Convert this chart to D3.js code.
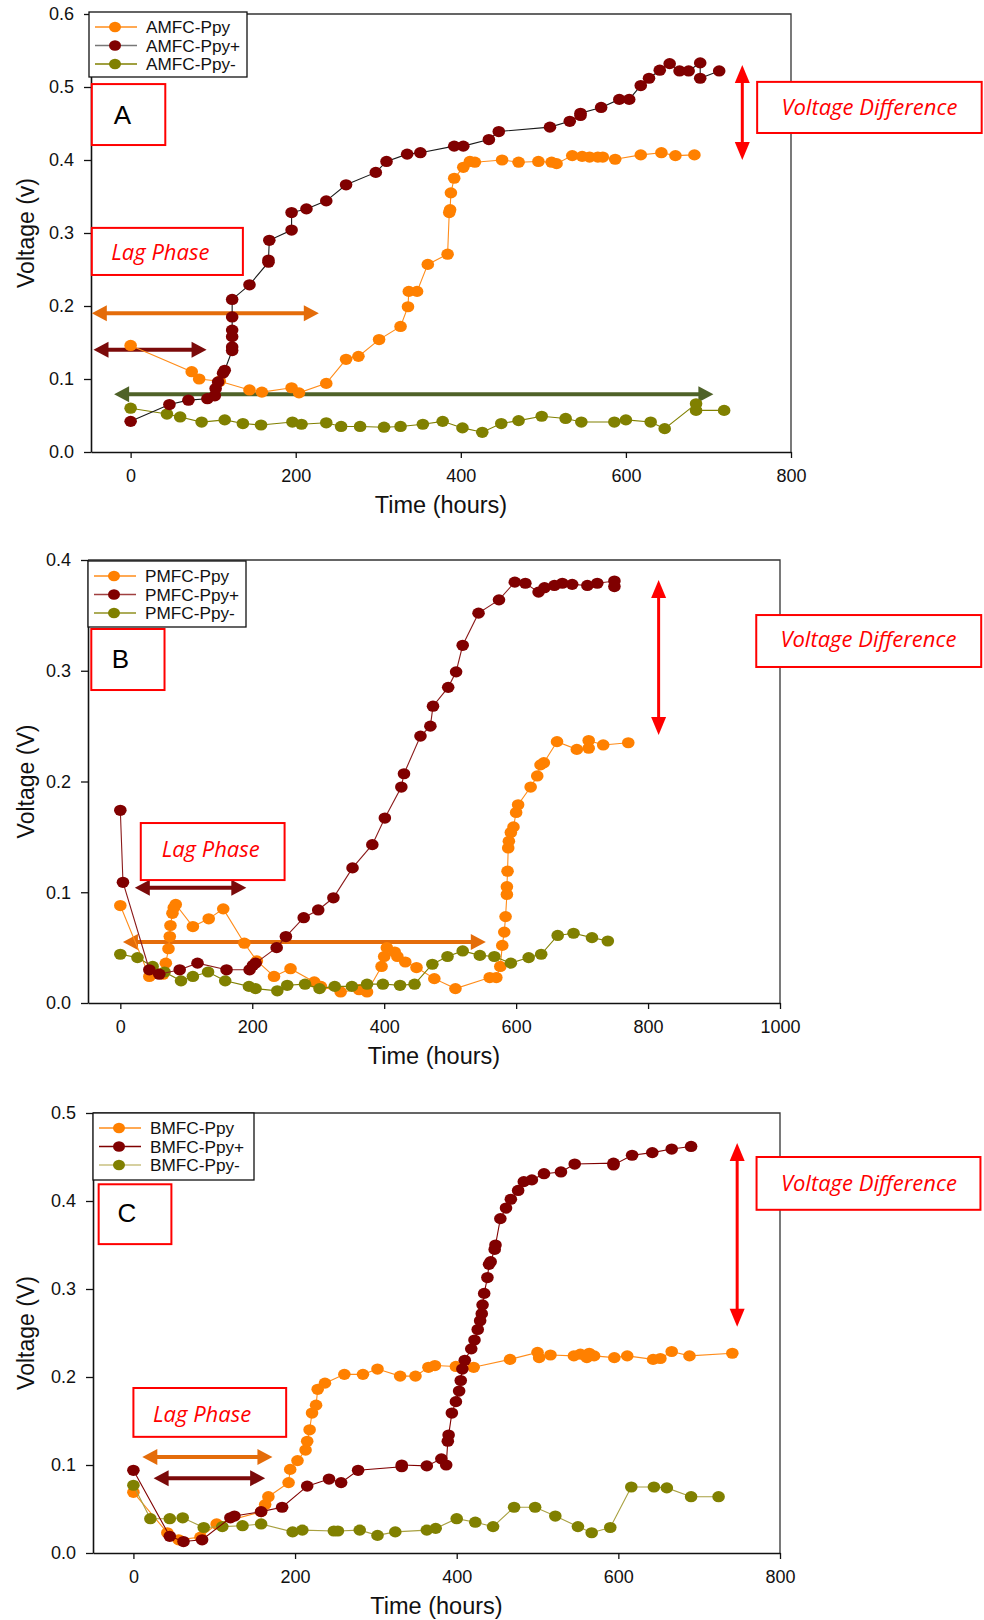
<!DOCTYPE html>
<html>
<head>
<meta charset="utf-8">
<script src="https://cdnjs.cloudflare.com/ajax/libs/d3/7.8.5/d3.min.js"></script>
<style>
body { margin: 0; background: #fff; }
svg text { font-family: "Liberation Sans", Arial, sans-serif; }
.note { font-family: "Open Sans", sans-serif; font-style: italic; fill: #ff0000; }
</style>
</head>
<body>
<div id="chart-area"></div>
<script>
/*
*   three voltage vs time panels (A, B, C)
*/

// panel A  [time (h), voltage (V)]
let amfcPpy = [[0,0.146],[74,0.110],[83,0.100],[108,0.097],[144,0.085],[159,0.082],[195,0.088],[204,0.081],[237,0.094],[261,0.127],[276,0.131],[301,0.154],[327,0.172],[336,0.199],[337,0.220],[347,0.220],[360,0.257],[384,0.271],[386,0.328],[387,0.332],[388,0.355],[392,0.375],[403,0.390],[411,0.398],[417,0.397],[450,0.400],[470,0.397],[494,0.398],[510,0.397],[516,0.395],[535,0.406],[547,0.405],[556,0.404],[566,0.404],[572,0.404],[587,0.401],[618,0.407],[643,0.410],[660,0.406],[683,0.407]];
let amfcPpyPlus = [[0,0.042],[47,0.065],[70,0.071],[93,0.073],[102,0.077],[103,0.087],[106,0.096],[112,0.108],[114,0.112],[123,0.139],[123,0.144],[123,0.158],[123,0.167],[123,0.185],[123,0.209],[144,0.229],[167,0.260],[167,0.263],[168,0.290],[195,0.304],[195,0.328],[213,0.333],[237,0.344],[261,0.366],[297,0.383],[310,0.398],[335,0.408],[351,0.410],[392,0.419],[403,0.419],[434,0.428],[446,0.439],[508,0.445],[532,0.453],[545,0.461],[545,0.464],[570,0.472],[592,0.483],[604,0.483],[618,0.502],[628,0.512],[641,0.523],[653,0.532],[665,0.522],[676,0.522],[690,0.533],[690,0.512],[713,0.522]];
let amfcPpyMinus = [[0,0.060],[44,0.052],[60,0.048],[86,0.041],[114,0.044],[136,0.039],[158,0.037],[196,0.041],[207,0.038],[237,0.040],[255,0.035],[278,0.035],[307,0.034],[327,0.035],[354,0.038],[378,0.042],[402,0.033],[426,0.027],[449,0.039],[470,0.043],[498,0.049],[527,0.046],[546,0.041],[586,0.041],[600,0.044],[630,0.041],[647,0.032],[685,0.066],[685,0.057],[719,0.057]];

// panel B
let pmfcPpy = [[0,0.088],[44,0.024],[65,0.026],[69,0.036],[73,0.049],[75,0.060],[76,0.070],[79,0.081],[81,0.086],[84,0.089],[110,0.069],[134,0.076],[156,0.085],[188,0.054],[207,0.038],[233,0.024],[258,0.031],[294,0.019],[304,0.015],[334,0.010],[362,0.012],[374,0.010],[396,0.033],[400,0.042],[404,0.050],[416,0.046],[420,0.042],[432,0.037],[449,0.032],[476,0.022],[508,0.013],[560,0.023],[570,0.023],[576,0.033],[579,0.052],[582,0.064],[584,0.078],[586,0.098],[586,0.105],[587,0.119],[588,0.140],[589,0.146],[592,0.154],[596,0.159],[600,0.172],[603,0.179],[622,0.195],[632,0.205],[637,0.215],[642,0.217],[662,0.236],[692,0.229],[710,0.230],[710,0.237],[732,0.233],[770,0.235]];
let pmfcPpyPlus = [[0,0.174],[4,0.109],[44,0.030],[59,0.026],[90,0.030],[117,0.036],[161,0.030],[196,0.030],[201,0.034],[205,0.036],[237,0.050],[251,0.060],[278,0.077],[300,0.084],[323,0.095],[352,0.122],[382,0.143],[401,0.167],[426,0.195],[430,0.207],[455,0.241],[470,0.250],[474,0.268],[497,0.285],[509,0.299],[519,0.323],[543,0.352],[574,0.364],[598,0.380],[614,0.379],[634,0.371],[643,0.375],[658,0.377],[670,0.379],[685,0.378],[708,0.377],[723,0.379],[749,0.381],[749,0.376]];
let pmfcPpyMinus = [[0,0.044],[26,0.041],[49,0.033],[67,0.028],[92,0.020],[110,0.024],[133,0.028],[159,0.020],[195,0.015],[205,0.013],[238,0.011],[253,0.016],[280,0.017],[302,0.013],[325,0.015],[351,0.015],[374,0.017],[398,0.017],[424,0.016],[446,0.017],[473,0.035],[496,0.042],[519,0.047],[545,0.043],[567,0.042],[592,0.036],[619,0.041],[638,0.044],[663,0.061],[687,0.063],[715,0.059],[739,0.056]];

// panel C
let bmfcPpy = [[0,0.069],[42,0.023],[56,0.015],[83,0.018],[103,0.033],[158,0.047],[163,0.055],[167,0.064],[192,0.080],[194,0.095],[203,0.105],[213,0.117],[215,0.127],[218,0.140],[221,0.159],[226,0.168],[228,0.186],[237,0.193],[261,0.203],[284,0.203],[302,0.209],[330,0.201],[349,0.201],[365,0.211],[373,0.213],[399,0.212],[421,0.211],[466,0.220],[500,0.228],[502,0.222],[516,0.225],[545,0.224],[553,0.226],[561,0.222],[564,0.227],[570,0.224],[595,0.222],[611,0.224],[643,0.220],[652,0.221],[666,0.229],[688,0.224],[741,0.227]];
let bmfcPpyPlus = [[0,0.094],[45,0.019],[62,0.013],[85,0.015],[120,0.040],[125,0.042],[158,0.047],[184,0.052],[215,0.076],[242,0.084],[257,0.080],[278,0.094],[332,0.098],[332,0.100],[363,0.099],[381,0.107],[387,0.100],[389,0.127],[390,0.134],[394,0.159],[399,0.172],[403,0.184],[405,0.196],[407,0.209],[410,0.219],[418,0.232],[422,0.242],[426,0.254],[429,0.264],[431,0.272],[432,0.282],[434,0.295],[438,0.313],[440,0.328],[442,0.331],[447,0.345],[448,0.350],[454,0.380],[461,0.392],[467,0.402],[476,0.412],[483,0.422],[493,0.424],[508,0.431],[529,0.433],[546,0.442],[594,0.443],[594,0.441],[617,0.452],[642,0.455],[666,0.459],[690,0.462]];
let bmfcPpyMinus = [[0,0.077],[21,0.039],[45,0.039],[61,0.040],[87,0.029],[110,0.030],[135,0.031],[158,0.033],[197,0.024],[209,0.026],[248,0.025],[253,0.025],[280,0.026],[302,0.020],[324,0.024],[363,0.026],[374,0.028],[400,0.039],[423,0.035],[445,0.030],[471,0.052],[497,0.052],[522,0.042],[550,0.030],[567,0.023],[590,0.029],[616,0.075],[644,0.075],[660,0.074],[690,0.064],[724,0.064]];

let xTicksA = [0, 200, 400, 600, 800];
let xTicksB = [0, 200, 400, 600, 800, 1000];
let yTicksA = [0, 0.1, 0.2, 0.3, 0.4, 0.5, 0.6];
let yTicksB = [0, 0.1, 0.2, 0.3, 0.4];
let yTicksC = [0, 0.1, 0.2, 0.3, 0.4, 0.5];

let namesA = ["AMFC-Ppy", "AMFC-Ppy+", "AMFC-Ppy-"];
let namesB = ["PMFC-Ppy", "PMFC-Ppy+", "PMFC-Ppy-"];
let namesC = ["BMFC-Ppy", "BMFC-Ppy+", "BMFC-Ppy-"];

let markerColors = ["#ff8000", "#800000", "#808000"];

let svg = d3.select("#chart-area")
    .append("svg")
    .attr("width", 984)
    .attr("height", 1620);

let panels = [
    {
        left: 91, right: 791, top: 14, bottom: 452, xMin: -48, xMax: 800,
        xTicks: xTicksA, yTicks: yTicksA, yLabel: "Voltage (v)",
        names: namesA, series: [amfcPpy, amfcPpyPlus, amfcPpyMinus],
        lineColors: ["#ff8c1a", "#1a1a1a", "#808000"],
        legendLine: ["#ff8c1a", "#777777", "#808000"],
        legend: {x: 89, y: 12, w: 158, h: 65},
        letter: {text: "A", t0: -47, t1: 42, v0: 0.4205, v1: 0.504, tx: -10, ty: 0.462},
        lag: {t0: -47, t1: 136, v0: 0.2425, v1: 0.307, tx: 36, ty: 0.274},
        diff: {t0: 759, t1: 1031, v0: 0.437, v1: 0.507, tx: 895, ty: 0.472},
        vArrow: {t: 741, v0: 0.400, v1: 0.530},
        hArrows: [
            {color: "#e46c0a", v: 0.190, t0: -47, t1: 228},
            {color: "#7b0a0a", v: 0.140, t0: -45, t1: 92},
            {color: "#4f6228", v: 0.079, t0: -20, t1: 706}
        ]
    },
    {
        left: 88, right: 780, top: 560, bottom: 1003, xMin: -49, xMax: 1000,
        xTicks: xTicksB, yTicks: yTicksB, yLabel: "Voltage (V)",
        names: namesB, series: [pmfcPpy, pmfcPpyPlus, pmfcPpyMinus],
        lineColors: ["#ff8c1a", "#8b1a1a", "#808000"],
        legendLine: ["#ff8c1a", "#a04040", "#909020"],
        legend: {x: 88, y: 561, w: 158, h: 66},
        letter: {text: "B", t0: -44, t1: 67, v0: 0.2826, v1: 0.3377, tx: 0, ty: 0.311},
        lag: {t0: 31, t1: 249, v0: 0.111, v1: 0.1625, tx: 137, ty: 0.139},
        diff: {t0: 964, t1: 1305, v0: 0.3034, v1: 0.3503, tx: 1134, ty: 0.328},
        vArrow: {t: 816, v0: 0.242, v1: 0.382},
        hArrows: [
            {color: "#7b0a0a", v: 0.104, t0: 22, t1: 191},
            {color: "#e46c0a", v: 0.055, t0: 4, t1: 554}
        ]
    },
    {
        left: 93, right: 780, top: 1113, bottom: 1553, xMin: -50, xMax: 800,
        xTicks: xTicksA, yTicks: yTicksC, yLabel: "Voltage (V)",
        names: namesC, series: [bmfcPpy, bmfcPpyPlus, bmfcPpyMinus],
        lineColors: ["#ff8c1a", "#800000", "#a8a040"],
        legendLine: ["#ff8c1a", "#800000", "#c8c080"],
        legend: {x: 93, y: 1113, w: 161, h: 67},
        letter: {text: "C", t0: -43, t1: 47, v0: 0.351, v1: 0.419, tx: -8, ty: 0.387},
        lag: {t0: 0, t1: 189, v0: 0.132, v1: 0.1875, tx: 85, ty: 0.158},
        diff: {t0: 771, t1: 1048, v0: 0.39, v1: 0.45, tx: 910, ty: 0.420},
        vArrow: {t: 747, v0: 0.257, v1: 0.466},
        hArrows: [
            {color: "#e46c0a", v: 0.109, t0: 11, t1: 172},
            {color: "#7b0a0a", v: 0.085, t0: 25, t1: 163}
        ]
    }
];

panels.forEach(drawPanel);

function arrowPath(x1, y1, x2, y2, len, half){
    // triangle head pointing at (x2, y2)
    let a = Math.atan2(y2 - y1, x2 - x1);
    let bx = x2 - len * Math.cos(a), by = y2 - len * Math.sin(a);
    let px = -Math.sin(a) * half, py = Math.cos(a) * half;
    return "M" + x2 + "," + y2 + "L" + (bx + px) + "," + (by + py) + "L" + (bx - px) + "," + (by - py) + "Z";
}

function doubleArrow(g, x1, y1, x2, y2, color, width, len, half){
    let a = Math.atan2(y2 - y1, x2 - x1);
    g.append("line")
        .attr("x1", x1 + (len - 1) * Math.cos(a))
        .attr("y1", y1 + (len - 1) * Math.sin(a))
        .attr("x2", x2 - (len - 1) * Math.cos(a))
        .attr("y2", y2 - (len - 1) * Math.sin(a))
        .attr("stroke", color)
        .attr("stroke-width", width);
    g.append("path").attr("d", arrowPath(x1, y1, x2, y2, len, half)).attr("fill", color);
    g.append("path").attr("d", arrowPath(x2, y2, x1, y1, len, half)).attr("fill", color);
}

function noteBox(g, x, y, b, label, cls, size){
    g.append("rect")
        .attr("x", x(b.t0))
        .attr("y", y(b.v1))
        .attr("width", x(b.t1) - x(b.t0))
        .attr("height", y(b.v0) - y(b.v1))
        .attr("fill", "#fff")
        .attr("stroke", "#ff0000")
        .attr("stroke-width", 2);
    g.append("text")
        .attr("class", cls)
        .attr("x", x(b.tx))
        .attr("y", y(b.ty))
        .attr("dy", "0.35em")
        .attr("text-anchor", "middle")
        .attr("font-size", size)
        .text(label);
}

function drawPanel(p){
    let width = p.right - p.left;
    let height = p.bottom - p.top;

    let g = svg.append("g")
        .attr("transform", "translate(" + p.left + "," + p.top + ")");

    let x = d3.scaleLinear()
        .domain([p.xMin, p.xMax])
        .range([0, width]);

    let y = d3.scaleLinear()
        .domain([0, d3.max(p.yTicks)])
        .range([height, 0]);

    // frame
    g.append("path")
        .attr("d", "M0,0H" + width + "V" + height)
        .attr("fill", "none")
        .attr("stroke", "#333")
        .attr("stroke-width", 1.3);

    //x axis
    let xAxis = d3.axisBottom(x)
        .tickValues(p.xTicks)
        .tickFormat(d3.format("d"))
        .tickSizeInner(6)
        .tickSizeOuter(0)
        .tickPadding(11);
    let xg = g.append("g")
        .attr("transform", "translate(0," + height + ")")
        .call(xAxis);

    // y axis
    let yAxis = d3.axisLeft(y)
        .tickValues(p.yTicks)
        .tickFormat(d3.format(".1f"))
        .tickSizeInner(7)
        .tickSizeOuter(0)
        .tickPadding(10);
    let yg = g.append("g").call(yAxis);

    [xg, yg].forEach(function(a){
        a.select(".domain").attr("stroke", "#111").attr("stroke-width", 1.6);
        a.selectAll(".tick line").attr("stroke", "#111").attr("stroke-width", 1.3);
        a.selectAll(".tick text").attr("font-size", 18).attr("fill", "#111")
            .attr("font-family", "'Liberation Sans', Arial, sans-serif");
    });

    //x label
    g.append("text")
        .text("Time (hours)")
        .attr("x", width / 2)
        .attr("y", height + 53)
        .attr("dy", "0.35em")
        .attr("font-size", 23.5)
        .attr("fill", "#111")
        .attr("text-anchor", "middle");

    //y label
    g.append("text")
        .text(p.yLabel)
        .attr("transform", "translate(" + (26 - p.left) + "," + (height / 2) + ") rotate(-90)")
        .attr("dy", "0.35em")
        .attr("font-size", 23)
        .attr("fill", "#111")
        .attr("text-anchor", "middle");

    // horizontal lag arrows
    p.hArrows.forEach(function(a){
        doubleArrow(g, x(a.t0), y(a.v), x(a.t1), y(a.v), a.color, 4, 15, 8);
    });

    // vertical voltage difference arrow
    doubleArrow(g, x(p.vArrow.t), y(p.vArrow.v1), x(p.vArrow.t), y(p.vArrow.v0), "#ff0000", 3, 18, 7.5);

    // series: orange, olive, dark red on top
    let line = d3.line()
        .x(function(d){ return x(d[0]); })
        .y(function(d){ return y(d[1]); });

    let order = [0, 2, 1];
    order.forEach(function(i){
        let s = g.append("g");
        s.append("path")
            .datum(p.series[i])
            .attr("d", line)
            .attr("fill", "none")
            .attr("stroke", p.lineColors[i])
            .attr("stroke-width", 1.1);
        s.selectAll("ellipse")
            .data(p.series[i])
            .enter()
            .append("ellipse")
                .attr("cx", function(d){ return x(d[0]); })
                .attr("cy", function(d){ return y(d[1]); })
                .attr("rx", 6.3)
                .attr("ry", 5.6)
                .attr("fill", markerColors[i]);
    });

    // annotation boxes
    noteBox(g, x, y, p.letter, p.letter.text, "letter", 26);
    noteBox(g, x, y, p.lag, "Lag Phase", "note", 22);
    noteBox(g, x, y, p.diff, "Voltage Difference", "note", 22);

    // legend
    let L = p.legend;
    let lg = svg.append("g")
        .attr("transform", "translate(" + L.x + "," + L.y + ")");
    lg.append("rect")
        .attr("width", L.w)
        .attr("height", L.h)
        .attr("fill", "#fff")
        .attr("stroke", "#111")
        .attr("stroke-width", 1.3);
    p.names.forEach(function(name, i){
        let ry = 15 + i * 18.5;
        lg.append("line")
            .attr("x1", 6).attr("x2", 48)
            .attr("y1", ry).attr("y2", ry)
            .attr("stroke", p.legendLine[i])
            .attr("stroke-width", 1.5);
        lg.append("ellipse")
            .attr("cx", 26).attr("cy", ry)
            .attr("rx", 6).attr("ry", 5.3)
            .attr("fill", markerColors[i]);
        lg.append("text")
            .attr("x", 57)
            .attr("y", ry)
            .attr("dy", "0.35em")
            .attr("font-size", 17.2)
            .attr("fill", "#111")
            .text(name);
    });
}
</script>
</body>
</html>
